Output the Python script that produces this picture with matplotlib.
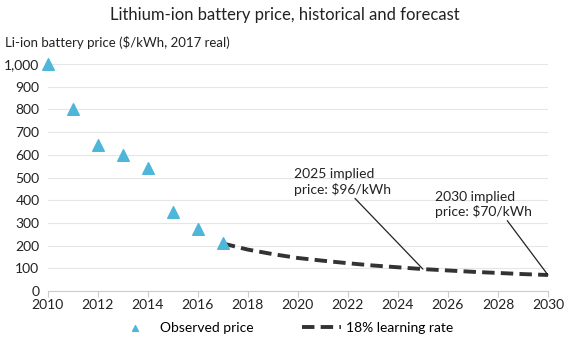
import matplotlib.pyplot as plt

plt.rcParams['font.family'] = ['Lato', 'DejaVu Sans']

# data
obs_years = [2010, 2011, 2012, 2013, 2014, 2015, 2016, 2017]
obs_price = [1000, 800, 642, 599, 540, 350, 273, 209]

fc_years = list(range(2017, 2031))
fc_price = [209, 182, 162, 145, 133, 122, 112, 104, 96, 90, 84, 79, 74, 70]

xticks = list(range(2010, 2031, 2))
yticks = list(range(0, 1001, 100))

fig = plt.figure(figsize=(5.69, 3.43), dpi=100)
ax = fig.add_axes([0.084, 0.152, 0.879, 0.661])

ax.plot(fc_years, fc_price, color='#333333', lw=2.8, dashes=(3.2, 1.6),
        label='18% learning rate', zorder=2)
ax.scatter(obs_years, obs_price, marker='^', s=70, color='#4db6d9',
           label='Observed price', zorder=3, clip_on=False)

ax.set_xlim(2010, 2030)
ax.set_ylim(0, 1000)
ax.set_xticks(xticks)
ax.set_yticks(yticks)
ax.set_yticklabels([f'{v:,}' for v in yticks])
ax.tick_params(axis='y', length=0, labelsize=10, colors='#222222', pad=6)
ax.tick_params(axis='x', length=4, color='#cccccc', labelsize=10, colors='#222222', pad=2)
ax.grid(axis='y', color='#e6e6e6', lw=0.8)
ax.set_axisbelow(True)
for s in ['top', 'right', 'left']:
    ax.spines[s].set_visible(False)
ax.spines['bottom'].set_color('#cccccc')

ax.annotate('2025 implied\nprice: $96/kWh', xy=(2025, 96), xytext=(2019.85, 540),
            ha='left', va='top', fontsize=10, color='#222222',
            arrowprops=dict(arrowstyle='-', color='#222222', lw=0.9,
                            shrinkA=0, shrinkB=0, relpos=(0.6, 0)))
ax.annotate('2030 implied\nprice: $70/kWh', xy=(2030, 70), xytext=(2025.5, 442),
            ha='left', va='top', fontsize=10, color='#222222',
            arrowprops=dict(arrowstyle='-', color='#222222', lw=0.9,
                            shrinkA=0, shrinkB=0, relpos=(0.72, 0)))

fig.text(0.5, 0.955, 'Lithium-ion battery price, historical and forecast',
         ha='center', va='center', fontsize=12, color='#222222')
fig.text(0.009, 0.875, 'Li-ion battery price ($/kWh, 2017 real)',
         ha='left', va='center', fontsize=9.5, color='#222222')

h, l = ax.get_legend_handles_labels()
fig.legend(h[::-1], l[::-1], loc='center', bbox_to_anchor=(0.5, 0.045), ncol=2,
           frameon=False, fontsize=10, handlelength=2.8, columnspacing=3.5,
           markerscale=0.5, handletextpad=0.4)

fig.savefig('out.png', dpi=100)
